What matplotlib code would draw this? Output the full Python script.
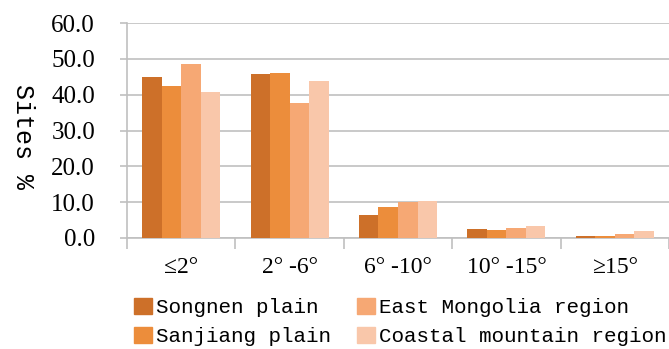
import matplotlib.pyplot as plt
import numpy as np
from matplotlib.patches import Patch

categories = ['≤2°', '2° -6°', '6° -10°', '10° -15°', '≥15°']
regions = ['Songnen plain', 'Sanjiang plain', 'East Mongolia region', 'Coastal mountain region']
songnen = [44.8, 45.8, 6.3, 2.4, 0.6]
sanjiang = [42.5, 46.0, 8.7, 2.3, 0.5]
mongolia = [48.6, 37.6, 10.0, 2.9, 1.0]
coastal = [40.7, 43.7, 10.2, 3.4, 1.9]
colors = ['#CD7029', '#EC8D3B', '#F6A874', '#F9C7AA']
yticks = [0, 10, 20, 30, 40, 50, 60]

series = [songnen, sanjiang, mongolia, coastal]

fig = plt.figure(figsize=(6.69, 3.49), dpi=100)
ax = fig.add_axes([127 / 669, 1 - 238 / 349, 1 - 127 / 669, (238 - 23) / 349])

x = np.arange(len(categories))
w = 0.18
for k, vals in enumerate(series):
    ax.bar(x + (k - 1.5) * w, vals, w, color=colors[k], zorder=3)

ax.set_xlim(-0.5, len(categories) - 0.5)
ax.set_ylim(0, 60)
ax.set_yticks(yticks)
ax.set_yticklabels([f'{v:.1f}' for v in yticks], family='Liberation Serif', fontsize=18)
ax.yaxis.grid(True, color='#C0C0C0', lw=1.2, zorder=0)
ax.tick_params(axis='y', length=5, color='#C0C0C0', pad=18, width=1.2)

ax.set_xticks(x)
ax.set_xticklabels(categories, family='Liberation Serif', fontsize=17)
ax.set_xticks(np.arange(len(categories) + 1) - 0.5, minor=True)
ax.tick_params(axis='x', which='major', length=0, pad=14)
ax.tick_params(axis='x', which='minor', length=8, color='#C0C0C0', width=1.2)

for s in ['top', 'right']:
    ax.spines[s].set_visible(False)
for s in ['left', 'bottom']:
    ax.spines[s].set_color('#C0C0C0')
    ax.spines[s].set_linewidth(1.2)

fig.text(23 / 669, 1 - 137 / 349, 'Sites %', rotation=270, ha='center', va='center',
         family='Liberation Mono', fontsize=18)

handles = [Patch(color=c) for c in colors]
leg = fig.legend(handles, regions,
                 ncol=2, loc='upper left', bbox_to_anchor=(134 / 669, 1 - 298 / 349),
                 frameon=False, prop={'family': 'Liberation Mono', 'size': 15},
                 handlelength=0.85, handleheight=0.8, handletextpad=0.2,
                 columnspacing=1.25, labelspacing=0.45, borderpad=0, borderaxespad=0)

fig.savefig('out.png', dpi=100)
